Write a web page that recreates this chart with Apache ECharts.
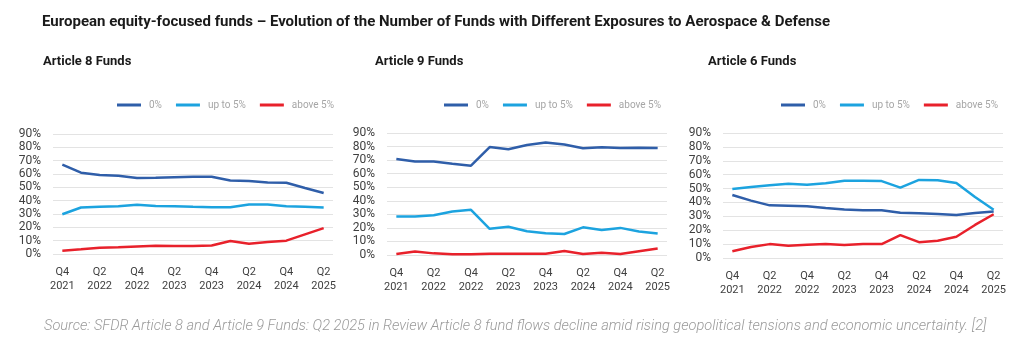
<!DOCTYPE html>
<html>
<head>
<meta charset="utf-8">
<script src="https://cdn.jsdelivr.net/npm/echarts@6/dist/echarts.min.js"></script>
<style>
html,body{margin:0;padding:0;background:#fff;}
#chart{width:1024px;height:355px;}
</style>
</head>
<body>
<div id="chart"></div>
<script>
const categories = ["Q4\n2021","Q1\n2022","Q2\n2022","Q3\n2022","Q4\n2022","Q1\n2023","Q2\n2023","Q3\n2023","Q4\n2023","Q1\n2024","Q2\n2024","Q3\n2024","Q4\n2024","Q1\n2025","Q2\n2025"];
const seriesNames = ["0%", "up to 5%", "above 5%"];
const panelTitles = ["Article 8 Funds", "Article 9 Funds", "Article 6 Funds"];

const art8_zero = [67, 61, 59.2, 58.6, 57, 57.2, 57.6, 57.9, 58, 55.2, 54.7, 53.7, 53.4, 49.5, 45.8];
const art8_upto5 = [29.8, 34.9, 35.4, 35.9, 36.9, 36, 35.9, 35.4, 35, 35, 37.2, 37.1, 35.9, 35.4, 34.9];
const art8_above5 = [2.5, 3.5, 4.7, 5, 5.7, 6.2, 6, 6, 6.4, 9.7, 7.7, 9, 10, 14.7, 19.4];

const art9_zero = [70.8, 69, 69, 67.3, 65.9, 79.6, 78, 81.2, 83, 81.5, 78.7, 79.5, 79, 79.2, 79];
const art9_upto5 = [28.4, 28.4, 29.3, 32.1, 33.3, 19.3, 20.8, 17.5, 16, 15.5, 20.4, 18.5, 20, 17.4, 15.8];
const art9_above5 = [0.7, 2.6, 1.2, 0.5, 0.5, 1, 1, 1, 1, 2.9, 0.7, 1.7, 0.7, 2.8, 4.8];

const art6_zero = [45.4, 41.3, 37.9, 37.7, 37.2, 36, 35, 34.3, 34.3, 32.6, 32.2, 31.7, 31, 32.4, 33.5];
const art6_upto5 = [49.7, 51.1, 52.3, 53.4, 52.8, 53.9, 55.7, 55.7, 55.4, 50.7, 56.2, 55.9, 54, 43.9, 34.8];
const art6_above5 = [4.8, 7.9, 10, 8.9, 9.6, 10, 9.4, 10, 10, 16.5, 11.4, 12.4, 15.3, 23.8, 31.5];

const yTicks = {min: 0, max: 90, interval: 10};

const panelData = [
  [art8_zero, art8_upto5, art8_above5],
  [art9_zero, art9_upto5, art9_above5],
  [art6_zero, art6_upto5, art6_above5]
];
const colors = ["#2f5ea9", "#1ca3df", "#e8212b"];
const FONT = "Roboto";

const grids = [
  {left: 53, top: 134, width: 280, height: 120},
  {left: 387, top: 133, width: 280, height: 122},
  {left: 723, top: 133, width: 280, height: 125}
];
const legendLeft = [112, 439, 776];
const subtitleLeft = [38, 370, 703];

const option = {
  animation: false,
  textStyle: {fontFamily: FONT},
  title: [
    {text: "European equity-focused funds \u2013 Evolution of the Number of Funds with Different Exposures to Aerospace & Defense",
     left: 37, top: 10, textStyle: {fontFamily: FONT, fontSize: 15, fontWeight: "bold", color: "#1a1a1a"}},
    ...panelTitles.map((t, i) => ({text: t, left: subtitleLeft[i], top: 50,
      textStyle: {fontFamily: FONT, fontSize: 13, fontWeight: "bold", color: "#1a1a1a"}})),
    {text: "Source: SFDR Article 8 and Article 9 Funds: Q2 2025 in Review Article 8 fund flows decline amid rising geopolitical tensions and economic uncertainty. [2]",
     left: 39, top: 314, textStyle: {fontFamily: FONT, fontSize: 14.6, fontStyle: "italic", fontWeight: 300, color: "#9a9a9a"}}
  ],
  legend: grids.map((g, i) => ({
    left: legendLeft[i], top: 95,
    data: seriesNames,
    icon: "rect", itemWidth: 24, itemHeight: 3, itemGap: 14,
    textStyle: {fontFamily: FONT, fontSize: 10, color: "#a6a6a6", padding: [0, 0, 0, 3]}
  })),
  grid: grids,
  xAxis: grids.map((g, i) => ({
    type: "category", gridIndex: i, data: categories, boundaryGap: true,
    axisLine: {show: false}, axisTick: {show: false},
    axisLabel: {interval: 1, fontFamily: FONT, fontSize: 11, color: "#404040", lineHeight: 14, margin: 11}
  })),
  yAxis: grids.map((g, i) => ({
    type: "value", gridIndex: i, min: yTicks.min, max: yTicks.max, interval: yTicks.interval,
    axisLine: {show: false}, axisTick: {show: false},
    axisLabel: {formatter: "{value}%", fontFamily: FONT, fontSize: 12, color: "#404040", margin: 12},
    splitLine: {lineStyle: {color: "#e3e3e3", width: 1}}
  })),
  series: []
};

panelData.forEach((arrs, p) => {
  arrs.forEach((arr, s) => {
    option.series.push({
      name: seriesNames[s], type: "line", xAxisIndex: p, yAxisIndex: p,
      data: arr, showSymbol: false, symbol: "none",
      lineStyle: {color: colors[s], width: 2.5},
      itemStyle: {color: colors[s]}
    });
  });
});

const chart = echarts.init(document.getElementById("chart"));
chart.setOption(option);
</script>
</body>
</html>
